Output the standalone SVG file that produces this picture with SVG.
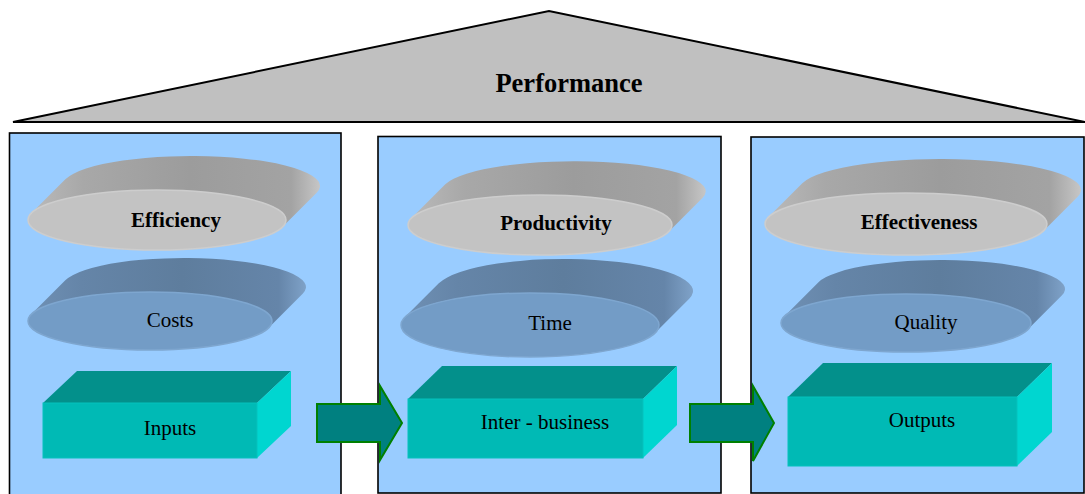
<svg xmlns="http://www.w3.org/2000/svg" width="1085" height="494" viewBox="0 0 1085 494">
  <defs>
    <style>
      .roof { fill: #c0c0c0; stroke: #000; stroke-width: 2; stroke-linejoin: miter; }
      .panel { fill: #99ccff; stroke: #000; stroke-width: 1.6; }
      .g-side { fill: url(#graySide); }
      .g-face { fill: #c3c3c3; stroke: #cdcdcd; stroke-width: 1.5; }
      .b-side { fill: url(#blueSide); }
      .b-face { fill: #739cc6; stroke: #7ea6cf; stroke-width: 1.5; }
      .box-front { fill: #00bab5; stroke: #05c2bd; stroke-width: 1; }
      .box-top { fill: #03908b; }
      .box-right { fill: #00d6d0; }
      .flow { fill: #008080; stroke: #008000; stroke-width: 2; stroke-linejoin: miter; }
      text { font-family: "Liberation Serif", "Times New Roman", serif; fill: #000; text-anchor: middle; }
      .title { font-size: 26.5px; font-weight: bold; }
      .bold { font-size: 21px; font-weight: bold; }
      .label { font-size: 21px; }
    </style>
    <linearGradient id="graySide" x1="0" y1="0" x2="1" y2="0">
      <stop offset="0" stop-color="#bababa"/>
      <stop offset="0.18" stop-color="#a8a8a8"/>
      <stop offset="0.55" stop-color="#9c9c9c"/>
      <stop offset="0.9" stop-color="#a3a3a3"/>
      <stop offset="1" stop-color="#c6c6c6"/>
    </linearGradient>
    <linearGradient id="blueSide" x1="0" y1="0" x2="1" y2="0">
      <stop offset="0" stop-color="#6f90b4"/>
      <stop offset="0.18" stop-color="#6585a8"/>
      <stop offset="0.55" stop-color="#5e7d9d"/>
      <stop offset="0.9" stop-color="#6585a9"/>
      <stop offset="1" stop-color="#7fa2c8"/>
    </linearGradient>
  </defs>

  <!-- roof -->
  <g id="performance">
    <polygon class="roof" points="13,122 549,11 1085,122"/>
    <text class="title" x="569" y="92">Performance</text>
  </g>

  <!-- three columns -->
  <rect id="column-1" class="panel" x="9.5" y="133" width="331.5" height="365"/>
  <rect id="column-2" class="panel" x="378" y="136.5" width="343" height="356.5"/>
  <rect id="column-3" class="panel" x="751" y="137" width="333" height="356"/>

  <!-- tilted disks: side band, then front face -->
  <g id="efficiency" transform="translate(157,220)">
    <path class="g-side" d="M125.65,6.8 L159.65,-27.2 A129,30 0 0 0 -91.65,-40.8 L-125.65,-6.8 A129,30 0 0 1 125.65,6.8 Z"/>
    <ellipse class="g-face" cx="0" cy="0" rx="129" ry="30"/>
    <text class="bold" x="19" y="7">Efficiency</text>
  </g>
  <g id="costs" transform="translate(150,321)">
    <path class="b-side" d="M118.69,6.71 L152.69,-27.29 A122,29 0 0 0 -84.69,-40.71 L-118.69,-6.71 A122,29 0 0 1 118.69,6.71 Z"/>
    <ellipse class="b-face" cx="0" cy="0" rx="122" ry="29"/>
    <text class="label" x="20" y="6">Costs</text>
  </g>

  <g id="productivity" transform="translate(540,225)">
    <path class="g-side" d="M128.71,6.65 L162.71,-27.35 A132,30 0 0 0 -94.71,-40.65 L-128.71,-6.65 A132,30 0 0 1 128.71,6.65 Z"/>
    <ellipse class="g-face" cx="0" cy="0" rx="132" ry="30"/>
    <text class="bold" x="16" y="5">Productivity</text>
  </g>
  <g id="time" transform="translate(530,325)">
    <path class="b-side" d="M125.21,7.7 L159.21,-26.3 A129,32 0 0 0 -91.21,-41.7 L-125.21,-7.7 A129,32 0 0 1 125.21,7.7 Z"/>
    <ellipse class="b-face" cx="0" cy="0" rx="129" ry="32"/>
    <text class="label" x="20" y="5">Time</text>
  </g>

  <g id="effectiveness" transform="translate(906,224)">
    <path class="g-side" d="M137.71,6.66 L171.71,-27.34 A141,31 0 0 0 -103.71,-40.66 L-137.71,-6.66 A141,31 0 0 1 137.71,6.66 Z"/>
    <ellipse class="g-face" cx="0" cy="0" rx="141" ry="31"/>
    <text class="bold" x="13" y="5">Effectiveness</text>
  </g>
  <g id="quality" transform="translate(906,323)">
    <path class="b-side" d="M121.77,6.55 L155.77,-27.45 A125,29 0 0 0 -87.77,-40.55 L-121.77,-6.55 A125,29 0 0 1 121.77,6.55 Z"/>
    <ellipse class="b-face" cx="0" cy="0" rx="125" ry="29"/>
    <text class="label" x="20" y="6">Quality</text>
  </g>

  <!-- stage blocks -->
  <g id="inputs">
    <polygon class="box-top" points="43,403 77,371 291,371 257,403"/>
    <polygon class="box-right" points="257,403 291,371 291,426 257,458"/>
    <rect class="box-front" x="43" y="403" width="214" height="55"/>
    <text class="label" x="170" y="435">Inputs</text>
  </g>
  <g id="inter-business">
    <polygon class="box-top" points="408,399 442,366 677,366 643,399"/>
    <polygon class="box-right" points="643,399 677,366 677,425 643,458"/>
    <rect class="box-front" x="408" y="399" width="235" height="59"/>
    <text class="label" x="545" y="429">Inter - business</text>
  </g>
  <g id="outputs">
    <polygon class="box-top" points="788,397 823,363 1052,363 1017,397"/>
    <polygon class="box-right" points="1017,397 1052,363 1052,432 1017,466"/>
    <rect class="box-front" x="788" y="397" width="229" height="69"/>
    <text class="label" x="922" y="427">Outputs</text>
  </g>

  <!-- flow arrows between stages -->
  <g id="connectors">
    <polygon class="flow" points="317,404 380,404 380,386 402,423 380,460 380,442 317,442"/>
    <polygon class="flow" points="690,404 753,404 753,386 774,423 753,461 753,442 690,442"/>
  </g>
</svg>
